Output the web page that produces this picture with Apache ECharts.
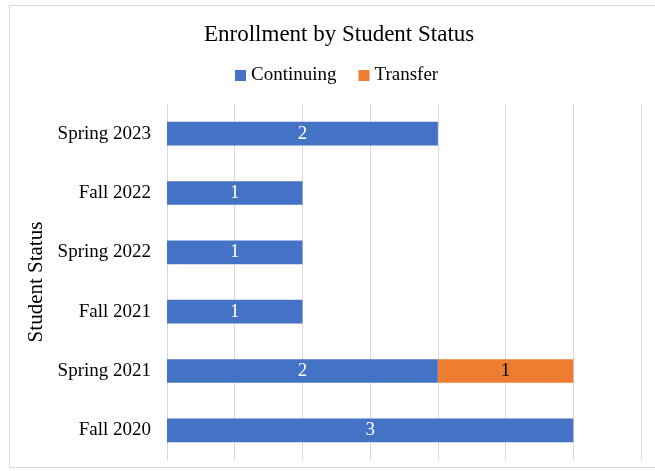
<!DOCTYPE html>
<html>
<head>
<meta charset="utf-8">
<script src="https://cdn.jsdelivr.net/npm/echarts@6/dist/echarts.min.js"></script>
<style>
  html, body { margin: 0; padding: 0; background: #fff; }
  #frame { position: absolute; left: 9px; top: 5px; width: 660px; height: 463px; border: 1px solid #d9d9d9; box-sizing: border-box; }
  #chart { width: 655px; height: 471px; }
</style>
</head>
<body>
<div id="frame"></div>
<div id="chart"></div>
<script>
var categories = ['Fall 2020', 'Spring 2021', 'Fall 2021', 'Spring 2022', 'Fall 2022', 'Spring 2023'];
var continuing = [3, 2, 1, 1, 1, 2];
var transfer = [null, 1, null, null, null, null];

var font = '"Liberation Serif", "Times New Roman", serif';
var myChart = echarts.init(document.getElementById('chart'));
var option = {
    animation: false,
    textStyle: { fontFamily: font },
    title: {
        text: 'Enrollment by Student Status',
        left: 199,
        top: 18,
        textStyle: { fontFamily: font, fontSize: 23, fontWeight: 'normal', color: '#000' }
    },
    legend: {
        top: 61,
        left: 230,
        itemWidth: 11,
        itemHeight: 11,
        itemGap: 22,
        icon: 'rect',
        textStyle: { fontFamily: font, fontSize: 19, color: '#000' },
        data: ['Continuing', 'Transfer']
    },
    grid: { left: 167, right: 14, top: 104, bottom: 11, containLabel: false },
    xAxis: {
        type: 'value',
        min: 0,
        max: 3.5,
        interval: 0.5,
        axisLabel: { show: false },
        axisLine: { show: false },
        axisTick: { show: false },
        splitLine: { lineStyle: { color: '#d9d9d9', width: 1 } }
    },
    yAxis: {
        type: 'category',
        data: categories,
        name: 'Student Status',
        nameLocation: 'middle',
        nameGap: 117,
        nameRotate: 90,
        nameTextStyle: { fontFamily: font, fontSize: 21, color: '#000' },
        axisLine: { show: false },
        axisTick: { show: false },
        axisLabel: { fontFamily: font, fontSize: 19, color: '#000', margin: 16 }
    },
    series: [
        {
            name: 'Continuing',
            type: 'bar',
            stack: 'total',
            barWidth: '40%',
            itemStyle: { color: '#4472C4' },
            label: { show: true, position: 'inside', color: '#fff', fontFamily: font, fontSize: 19 },
            data: continuing
        },
        {
            name: 'Transfer',
            type: 'bar',
            stack: 'total',
            barWidth: '40%',
            itemStyle: { color: '#ED7D31' },
            label: { show: true, position: 'inside', color: '#000', fontFamily: font, fontSize: 19 },
            data: transfer
        }
    ]
};
myChart.setOption(option);
</script>
</body>
</html>
